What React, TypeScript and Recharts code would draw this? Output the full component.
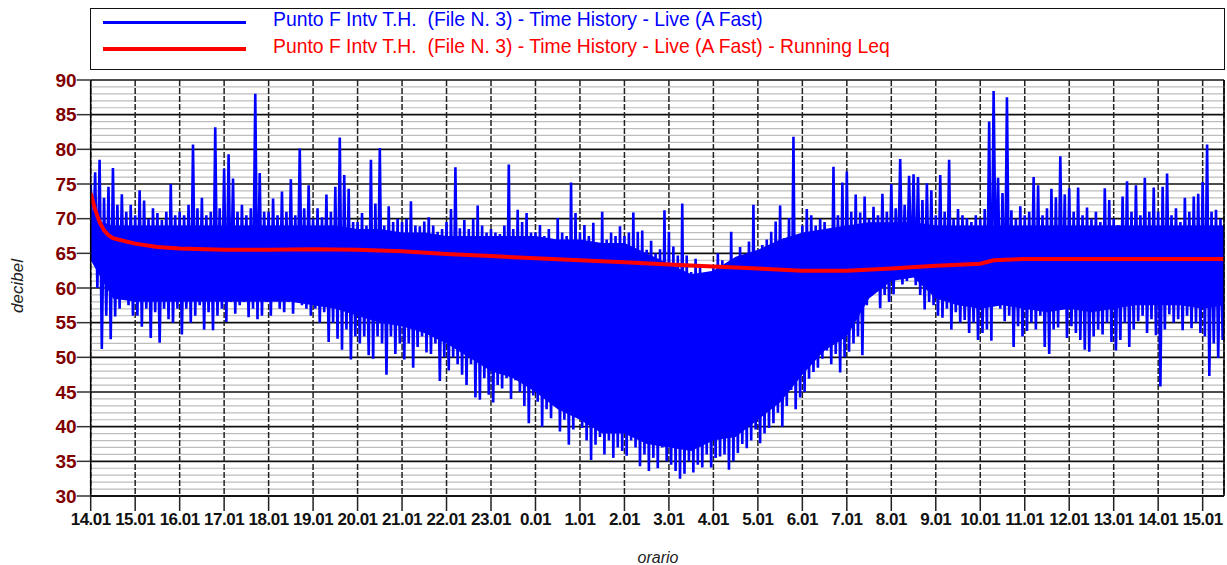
import React from "react";
import {
  ComposedChart,
  Line,
  Area,
  XAxis,
  YAxis,
  CartesianGrid,
  ReferenceLine,
} from "recharts";

const FONT = "'Liberation Sans', Arial, Helvetica, sans-serif";

// Axis tick labels (hour of day, one per hour from 14.01 to 15.01 next day)
const hourLabels = [
  "14.01", "15.01", "16.01", "17.01", "18.01", "19.01", "20.01", "21.01", "22.01",
  "23.01", "0.01", "1.01", "2.01", "3.01", "4.01", "5.01", "6.01", "7.01", "8.01",
  "9.01", "10.01", "11.01", "12.01", "13.01", "14.01", "15.01",
];
const xTicks = [0, 1, 2, 3, 4, 5, 6, 7, 8, 9, 10, 11, 12, 13, 14, 15, 16, 17, 18, 19, 20, 21, 22, 23, 24, 25];
const yTicks = [30, 35, 40, 45, 50, 55, 60, 65, 70, 75, 80, 85, 90];
const minorTicks = [
  31, 32, 33, 34, 36, 37, 38, 39, 41, 42, 43, 44, 46, 47, 48, 49, 51, 52, 53, 54,
  56, 57, 58, 59, 61, 62, 63, 64, 66, 67, 68, 69, 71, 72, 73, 74, 76, 77, 78, 79,
  81, 82, 83, 84, 86, 87, 88, 89,
];

const seriesNames = [
  "Punto F Intv T.H.  (File N. 3) - Time History - Live (A Fast)",
  "Punto F Intv T.H.  (File N. 3) - Time History - Live (A Fast) - Running Leq",
];

// Time history, sampled every 0.1 h: local maxima (peakHi) and minima (peakLo)
const STEP = 0.1;
const peakHi = [
  75, 76.7, 78.5, 73, 74.6, 77.3, 72, 73.5, 71, 72,
  70.5, 74.1, 72.6, 70, 71.5, 70.8, 69.8, 71, 75, 70.5,
  71, 70.5, 72, 80.7, 71.5, 73, 70.5, 71, 83.2, 71.5,
  77.2, 79.3, 75.8, 71, 72, 70.5, 71.5, 88.0, 76.6, 71,
  71, 72.9, 70.5, 73.9, 71, 75.7, 70.5, 80.1, 71.5, 74.8,
  70, 71.5, 70.2, 73.5, 71, 74.6, 81.7, 76.3, 74.3, 69.5,
  69.5, 70.8, 69, 78.5, 72.2, 80.2, 69, 71.8, 69.5, 70,
  69.5, 70, 72.5, 69, 68.9, 69.6, 70.2, 69, 68.1, 68.5,
  69.5, 71.4, 77.4, 68.6, 69.8, 68.5, 70, 71.9, 69, 68,
  68.5, 68, 67.8, 69, 77.8, 68.5, 71.3, 69.5, 70.8, 68,
  68, 69.1, 67.5, 68.5, 67, 70.1, 68, 67.5, 75.2, 70.8,
  68, 69.1, 67.5, 69.4, 66.5, 71, 67, 68, 67.5, 68.9,
  67.5, 68, 70.9, 68.1, 68.3, 65.5, 66.8, 65, 65.6, 71.2,
  68.1, 66, 64.7, 72.2, 64.7, 62.3, 64.2, 63, 61.3, 62,
  63, 65, 64, 62.3, 68.1, 62.8, 65.9, 64.2, 66.7, 72,
  65, 66.2, 67, 68.1, 69.6, 71.9, 67.2, 70.1, 81.8, 67.2,
  69, 71.4, 70.5, 69, 70, 69.5, 68.5, 77.5, 70.5, 75.2,
  76.8, 71, 73.5, 70.9, 73.2, 70, 71.7, 70.5, 73.6, 71,
  75, 71.5, 78.6, 72, 76.2, 76.4, 76, 72.7, 75.1, 74.1,
  70.5, 76.3, 71, 78.5, 70, 71.4, 70.5, 70.1, 69.5, 70.5,
  70, 71.4, 84.0, 88.4, 75.9, 73.7, 87.5, 71.2, 70, 71.8,
  70.5, 71, 76, 74.8, 70.5, 71.5, 74.3, 73.1, 79.0, 73.5,
  74.4, 71, 74.5, 70.5, 71.6, 70, 71, 69.5, 74.4, 72.7,
  70, 69.1, 73.2, 75.4, 71, 74.8, 70.5, 75.9, 71, 74.5,
  71, 74.6, 76.5, 70.5, 71.5, 69.5, 73, 71, 73.2, 73.6,
  75.3, 80.7, 71, 71.3, 70, 69.1,
];
const peakLo = [
  64, 60, 51.2, 56, 52.6, 55.9, 57, 59, 57.5, 56,
  56, 54.4, 57, 52.8, 56.5, 52.1, 57, 55.5, 55, 57,
  53.3, 57, 55, 56, 57.5, 54, 56.5, 53.9, 56, 57,
  55.1, 58, 56.3, 57.5, 58, 55.8, 57, 55.5, 56, 58,
  56, 58.5, 57, 56.5, 58, 56.3, 58, 57.5, 57, 56,
  57, 55, 56.5, 52.2, 55, 52.7, 51.1, 54, 49.7, 53,
  52, 53, 50.3, 49.8, 53, 52, 47.5, 53, 50.5, 52,
  49.7, 52, 48.5, 51.5, 53, 50.7, 50.5, 52, 46.6, 50,
  48.1, 50, 49, 47.5, 46, 49, 44.2, 43.9, 47, 44.6,
  43.5, 46, 45.5, 47, 44, 46.7, 45, 43, 40.5, 44.5,
  43.6, 40, 42.5, 41.2, 43, 39.3, 41, 37.4, 39.6, 42,
  39.8, 38, 35.2, 37.4, 38.5, 36, 38, 35.5, 37, 36.5,
  35.8, 38, 37, 34.3, 36, 33.6, 35.5, 34, 37, 35,
  34.5, 33.6, 32.5, 33.2, 35, 33.4, 34.5, 34.1, 36, 34.1,
  35.5, 35.7, 36, 33.8, 35, 36.2, 37.5, 36.9, 38, 39.6,
  37.6, 39, 39.8, 40.5, 42, 40, 43, 45.3, 42.5, 44.2,
  45, 46.9, 47.9, 48.5, 49.8, 51, 49, 50.5, 47.8, 50,
  50.8, 52, 53, 50.3, 57.5, 58.9, 60, 57.1, 59, 58,
  59.1, 62.2, 60.5, 61, 61.6, 60.4, 59, 56.9, 58, 57.5,
  56, 55.7, 57, 54, 56.5, 55, 55.4, 53.5, 55, 52.5,
  53.5, 54, 52.4, 61.7, 57, 55.2, 56, 51.5, 54.5, 53,
  53.8, 55, 54, 56, 51.5, 50.5, 54, 54.3, 57.2, 52.8,
  54.5, 53.5, 52.5, 51.1, 50.8, 53, 54, 53.3, 55, 52.2,
  51, 52.5, 55, 51.5, 54, 55.2, 56, 53.5, 55.5, 53.2,
  45.8, 54, 56.2, 55, 55.5, 53.9, 56, 54.2, 55, 53.5,
  53, 47.3, 52, 49.9, 52.5, 54.3,
];

// Dense core of the time history (solid band), every half hour
const coreTime = [
  0, 0.5, 1, 1.5, 2, 2.5, 3, 3.5, 4, 4.5, 5, 5.5, 6, 6.5, 7, 7.5, 8, 8.5, 9, 9.5,
  10, 10.5, 11, 11.5, 12, 12.5, 13, 13.5, 14, 14.5, 15, 15.5, 16, 16.5, 17, 17.5,
  18, 18.5, 19, 19.5, 20, 20.5, 21, 21.5, 22, 22.5, 23, 23.5, 24, 24.5, 25, 25.5,
];
const coreHi = [
  70, 69, 69, 69, 69, 69, 69, 69, 69, 69, 69, 69, 68.5, 68.5, 68, 68, 67.5, 67.5, 67.5, 67.5,
  67.5, 67, 67, 66.5, 66.5, 65, 63.5, 62, 62.5, 64.5, 65.5, 67, 68, 68.5, 69, 69.5,
  69.5, 69.5, 69, 69, 69, 69, 69, 69, 69, 69, 69, 69, 69, 69, 69, 69,
];
const coreLo = [
  64, 58.5, 58, 58, 58, 58, 58, 58, 58, 58, 57.5, 57, 56, 55, 54.5, 53.5, 52, 50, 48, 47,
  45, 42.5, 41, 39, 39, 37.5, 37, 36.5, 38, 38.5, 41, 43.5, 47.5, 51, 53, 58.5,
  61, 61.5, 58.5, 57.5, 57, 57.5, 57, 56.5, 57, 56.5, 57, 57.5, 57.5, 57.5, 57, 57.5,
];

// Running Leq
const leqTime = [0, 0.1, 0.2, 0.3, 0.4, 0.5, 0.8, 1, 1.5, 2, 3, 4, 5, 6, 7, 8, 9, 10, 11, 12, 13, 14, 15, 16, 17, 18, 19, 20, 20.3, 21, 22, 23, 24, 25, 25.5];
const leqValue = [73.7, 71.3, 69.5, 68.3, 67.6, 67.2, 66.7, 66.4, 65.9, 65.7, 65.5, 65.5, 65.6, 65.5, 65.3, 64.9, 64.6, 64.3, 64.0, 63.7, 63.4, 63.1, 62.8, 62.5, 62.5, 62.8, 63.2, 63.5, 64.0, 64.2, 64.2, 64.2, 64.2, 64.2, 64.2];

type Row = { t: number; blue?: number; leq?: number; core?: [number, number] };
const rows: Row[] = [];
peakHi.forEach((v, i) => {
  rows.push({ t: Math.round(i * STEP * 100) / 100, blue: v });
  rows.push({ t: Math.round((i * STEP + STEP / 2) * 100) / 100, blue: peakLo[i] });
});
const rowAt = (t: number) => rows[Math.round(t / (STEP / 2))];
leqTime.forEach((t, i) => {
  rowAt(t).leq = leqValue[i];
});
coreTime.forEach((t, i) => {
  rowAt(t).core = [coreLo[i], coreHi[i]];
});

const legendColors = ["#0000ff", "#ff0000"];
const legendThickness = [2.5, 4];

export default function App() {
  return (
    <div
      style={{
        position: "absolute",
        left: 0,
        top: 0,
        width: 1227,
        height: 565,
        background: "#ffffff",
        fontFamily: FONT,
      }}
    >
      {/* Legend box */}
      <div
        style={{
          position: "absolute",
          left: 90,
          top: 8,
          width: 1135,
          height: 62,
          border: "1.5px solid #111",
          boxSizing: "border-box",
        }}
      />
      {seriesNames.map((name, i) => (
        <React.Fragment key={name}>
          <div
            style={{
              position: "absolute",
              left: 103,
              top: i === 0 ? 21 : 47,
              width: 143,
              height: legendThickness[i],
              background: legendColors[i],
            }}
          />
          <div
            style={{
              position: "absolute",
              left: 273,
              top: i === 0 ? 10 : 37,
              fontSize: 19.35,
              lineHeight: "19px",
              color: legendColors[i],
              whiteSpace: "pre",
            }}
          >
            {name}
          </div>
        </React.Fragment>
      ))}

      <div style={{ position: "absolute", left: 0, top: 0 }}>
        <ComposedChart
          width={1227}
          height={565}
          data={rows}
          margin={{ top: 80, right: 3, bottom: 29, left: 10.7 }}
        >
          <CartesianGrid
            horizontalValues={minorTicks}
            vertical={false}
            stroke="#bdbdbd"
            strokeWidth={1.2}
          />
          <CartesianGrid vertical={false} stroke="#111" strokeWidth={1.6} />
          <CartesianGrid horizontal={false} stroke="#222" strokeWidth={1.5} strokeDasharray="6 2" />
          <XAxis
            dataKey="t"
            type="number"
            domain={[0, 25.48]}
            ticks={xTicks}
            interval={0}
            allowDataOverflow
            tickFormatter={(v: number) => hourLabels[v]}
            tickSize={15}
            tickMargin={2}
            height={40}
            axisLine={{ stroke: "#000", strokeWidth: 1.5 }}
            tickLine={{ stroke: "#222", strokeWidth: 1.5 }}
            tick={{ fill: "#111", fontSize: 17, fontWeight: "bold", fontFamily: FONT, letterSpacing: -0.5 }}
          />
          <YAxis
            type="number"
            domain={[30, 90]}
            ticks={yTicks}
            interval={0}
            allowDataOverflow
            width={80}
            tickSize={14}
            tickMargin={0}
            axisLine={{ stroke: "#000", strokeWidth: 1.5 }}
            tickLine={{ stroke: "#333", strokeWidth: 1.5 }}
            tick={{ fill: "#800000", fontSize: 19, fontWeight: "bold", fontFamily: FONT }}
          />
          <Area
            dataKey="core"
            type="linear"
            stroke="none"
            fill="#0000ff"
            fillOpacity={1}
            connectNulls
            dot={false}
            activeDot={false}
            isAnimationActive={false}
          />
          <Line
            dataKey="blue"
            type="linear"
            stroke="#0000ff"
            strokeWidth={2.6}
            dot={false}
            activeDot={false}
            isAnimationActive={false}
          />
          <Line
            dataKey="leq"
            type="linear"
            stroke="#ff0000"
            strokeWidth={4}
            dot={false}
            activeDot={false}
            connectNulls
            isAnimationActive={false}
          />
          <ReferenceLine x={25.48} stroke="#000" strokeWidth={1.5} />
        </ComposedChart>
      </div>

      {/* Axis titles */}
      <div
        style={{
          position: "absolute",
          left: 18,
          top: 286,
          transform: "translate(-50%, -50%) rotate(-90deg)",
          fontStyle: "italic",
          fontSize: 17,
          color: "#222",
          whiteSpace: "nowrap",
        }}
      >
        decibel
      </div>
      <div
        style={{
          position: "absolute",
          left: 658,
          top: 558,
          transform: "translate(-50%, -50%)",
          fontStyle: "italic",
          fontSize: 16,
          color: "#222",
          whiteSpace: "nowrap",
        }}
      >
        orario
      </div>
    </div>
  );
}
